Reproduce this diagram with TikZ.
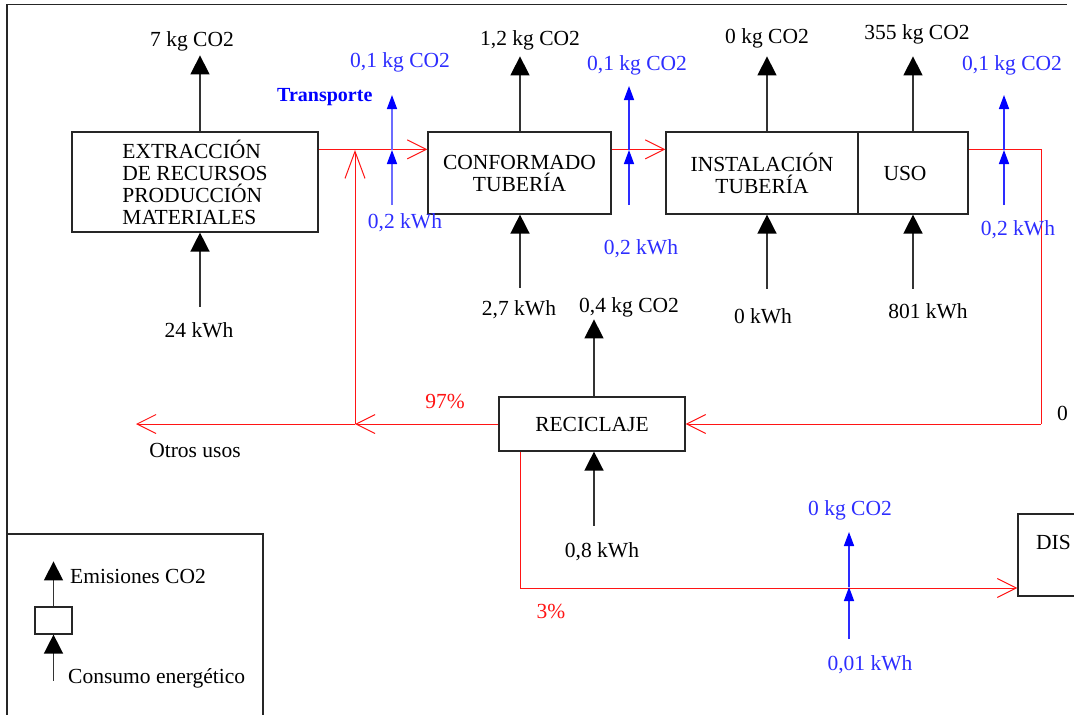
\documentclass[tikz,border=0pt]{standalone}
\usepackage{fontspec}
\setmainfont{Liberation Serif}
\usetikzlibrary{arrows.meta,calc}
\definecolor{lblue}{RGB}{45,45,255}
\definecolor{flowred}{RGB}{255,20,20}
\begin{document}
\begin{tikzpicture}[x=1pt,y=-1pt,
  every node/.style={font=\fontsize{21.5}{22}\selectfont, inner sep=0pt},
  box/.style={draw=black!85, line width=1.2pt, rectangle, inner sep=0pt, align=center},
  blk/.style={draw=black!80, line width=1.5pt, -{Triangle[length=19pt,width=19pt,color=black]}},
  blu/.style={draw=lblue, line width=1.5pt, -{Triangle[length=14pt,width=10pt,color=blue]}},
  flow/.style={draw=flowred, line width=1pt, -{Straight Barb[length=19pt,width=19pt,line width=1pt]}},
  flowline/.style={draw=flowred, line width=1pt},
  lbl/.style={anchor=base},
  blbl/.style={anchor=base, text=lblue},
  rlbl/.style={anchor=base, text=flowred}]
\useasboundingbox (0,0) rectangle (1074,715);
\clip (0,0) rectangle (1074,715);

% frame
\draw[line width=1.2pt, black!85] (7,730) -- (7,4.5) -- (1067,4.5);

% boxes
\node[box, minimum width=246pt, minimum height=100pt, align=left] (ext) at (195,182)
  {EXTRACCIÓN\\DE RECURSOS\\PRODUCCIÓN\\MATERIALES};
\node[box, minimum width=183pt, minimum height=82pt] (conf) at (519.5,173) {CONFORMADO\\TUBERÍA};
\node[box, minimum width=192pt, minimum height=82pt] (inst) at (762,173) {INSTALACIÓN\\TUBERÍA\hspace{8pt}};
\node[box, minimum width=110pt, minimum height=82pt] (uso) at (913,173) {USO\hspace{16pt}};
\node[box, minimum width=186pt, minimum height=54pt] (rec) at (592,424) {RECICLAJE};
\node[box, minimum width=220pt, minimum height=82pt] (dis) at (1128,555) {};
\node[anchor=base west] (distxt) at (1036,549) {DIS};

% black arrows (emissions / energy)
\draw[blk] ([xshift=5pt]ext.north) -- ($(ext.north)+(5,-76)$);
\draw[blk] ($(ext.south)+(5,74)$) -- ([xshift=5pt]ext.south);
\draw[blk] ([xshift=0.5pt]conf.north) -- ($(conf.north)+(0.5,-75)$);
\draw[blk] ($(conf.south)+(0.5,73)$) -- ([xshift=0.5pt]conf.south);
\draw[blk] ([xshift=5pt]inst.north) -- ($(inst.north)+(5,-75)$);
\draw[blk] ($(inst.south)+(5,74)$) -- ([xshift=5pt]inst.south);
\draw[blk] (uso.north) -- ($(uso.north)+(0,-75)$);
\draw[blk] ($(uso.south)+(0,74)$) -- (uso.south);
\draw[blk] ([xshift=2pt]rec.north) -- ($(rec.north)+(2,-77)$);
\draw[blk] ($(rec.south)+(2,74)$) -- ([xshift=2pt]rec.south);

% black labels
\node[lbl] (l1) at (192,46) {7 kg CO2};
\node[lbl] (l2) at (199,337) {24 kWh};
\node[lbl] (l3) at (530,45) {1,2 kg CO2};
\node[lbl] (l4) at (519,315) {2,7 kWh};
\node[lbl] (l5) at (767,43) {0 kg CO2};
\node[lbl] (l6) at (763,323) {0 kWh};
\node[lbl] (l7) at (917,39) {355 kg CO2};
\node[lbl] (l8) at (928,318) {801 kWh};
\node[lbl] (l9) at (629,312) {0,4 kg CO2};
\node[lbl] (l10) at (602,557) {0,8 kWh};
\node[lbl] (l11) at (195,457) {Otros usos};
\node[anchor=base west] (l12) at (1057,420) {0};

% transport (blue) arrows
\coordinate (b1) at (392,205); \coordinate (m1) at (392,150); \coordinate (t1) at (392,95);
\coordinate (b2) at (629,205); \coordinate (m2) at (629,150); \coordinate (t2) at (629,86);
\coordinate (b3) at (1004,205); \coordinate (m3) at (1004,150); \coordinate (t3) at (1004,95);
\coordinate (b4) at (849,639); \coordinate (m4) at (849,587); \coordinate (t4) at (849,532);

% red flows
\draw[flow] ([yshift=-18pt]ext.north east) -- ([yshift=-18pt]conf.north west);
\draw[flow] ([yshift=-18pt]conf.north east) -- ([yshift=-18pt]inst.north west);
\coordinate (rc) at (1041,424);
\draw[flowline] ([yshift=-18pt]uso.north east) -| (rc);
\draw[flow] (rc) -- (rec.east);
\coordinate (j1) at (355,424);
\coordinate (j2) at (355,150);
\coordinate (ou) at (136,424);
\draw[flow] (rec.west) -- (j1);
\draw[flow] (j1) -- (ou);
\draw[draw=flowred, line width=1pt, -{Straight Barb[length=27pt,width=20pt,line width=1pt]}] (j1) -- (j2);
\draw[flow] ([xshift=-72pt]rec.south) |- ([yshift=-33pt]dis.west);

\draw[blu, draw=lblue!70] (b1) -- (m1);
\draw[blu, draw=lblue!70] (m1) -- (t1);
\draw[blu] (b2) -- (m2);
\draw[blu] (m2) -- (t2);
\draw[blu] (b3) -- (m3);
\draw[blu] (m3) -- (t3);
\draw[blu] (b4) -- (m4);
\draw[blu] (m4) -- (t4);

% blue labels
\node[blbl] (q1) at (400,67) {0,1 kg CO2};
\node[blbl] (q2) at (405,228) {0,2 kWh};
\node[blbl] (q3) at (637,70) {0,1 kg CO2};
\node[blbl] (q4) at (641,254) {0,2 kWh};
\node[blbl] (q5) at (1012,70) {0,1 kg CO2};
\node[blbl] (q6) at (1018,235) {0,2 kWh};
\node[blbl] (q7) at (850,515) {0 kg CO2};
\node[blbl] (q8) at (870,670) {0,01 kWh};
\node[anchor=base west, text=blue, font=\fontsize{20}{22}\selectfont\bfseries] (tr) at (277,101) {Transporte};

% red labels
\node[rlbl] (p1) at (445,408) {97\%};
\node[rlbl] (p2) at (551,618) {3\%};

% legend
\draw[line width=1.2pt, black!85] (7,534) -- (263,534) -- (263,720);
\node[box, minimum width=37pt, minimum height=27pt] (legbox) at (53.5,620.5) {};
\draw[blk] (legbox.north) -- ($(legbox.north)+(0,-45)$);
\draw[blk] ($(legbox.south)+(0,46)$) -- (legbox.south);
\node[anchor=base west] (le1) at (70,583) {Emisiones CO2};
\node[anchor=base west] (le2) at (68,683) {Consumo energético};
\end{tikzpicture}
\end{document}
